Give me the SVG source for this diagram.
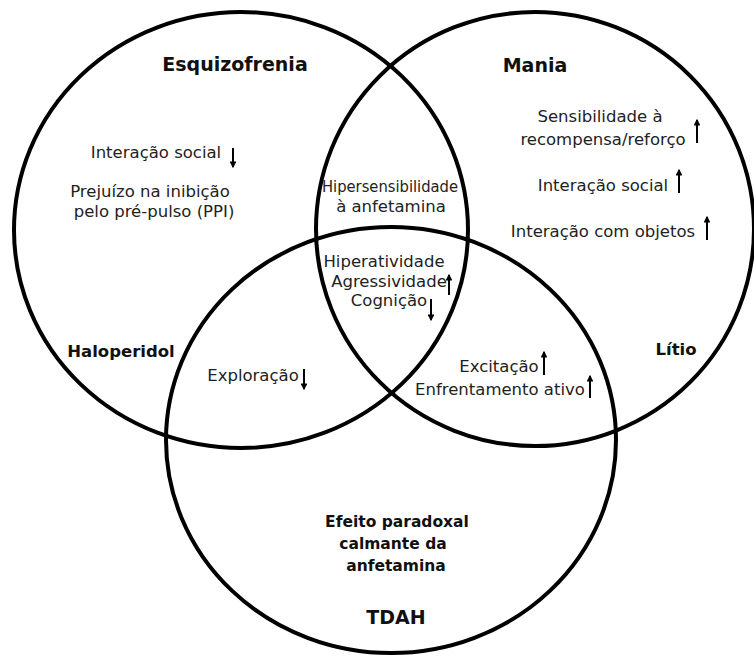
<svg xmlns="http://www.w3.org/2000/svg" width="754" height="656" viewBox="0 0 754 656">
  <defs>
    <style>
      .ring { fill: none; stroke: #000; stroke-width: 4; }
      .title { font-family: "DejaVu Sans", "Liberation Sans", sans-serif; font-weight: bold; fill: #111; text-anchor: middle; }
      .item { font-family: "DejaVu Sans", "Liberation Sans", sans-serif; font-size: 16.5px; fill: #222; text-anchor: middle; }
      .arrow { stroke: #000; stroke-width: 2; fill: none; }
    </style>
    <marker id="head" viewBox="0 0 10 10" refX="8" refY="5" markerWidth="3.6" markerHeight="3.4" orient="auto" markerUnits="strokeWidth">
      <path d="M0,0 L10,5 L0,10 Z" fill="#000"/>
    </marker>
  </defs>

  <rect width="754" height="656" fill="#fff"/>

  <!-- Esquizofrenia set -->
  <g id="esquizofrenia">
    <ellipse class="ring" cx="241" cy="230" rx="227" ry="218"/>
    <text class="title" x="235" y="71" font-size="19">Esquizofrenia</text>
    <text class="item" x="156" y="158">Interação social</text>
    <path class="arrow" d="M233,148 V167" marker-end="url(#head)"/>
    <text class="item" x="150" y="197">Prejuízo na inibição</text>
    <text class="item" x="154" y="217">pelo pré-pulso (PPI)</text>
    <text class="title" x="121" y="357" font-size="16.5">Haloperidol</text>
  </g>

  <!-- Mania set -->
  <g id="mania">
    <ellipse class="ring" cx="535" cy="229" rx="219" ry="217"/>
    <text class="title" x="535" y="72" font-size="19">Mania</text>
    <text class="item" x="600" y="122">Sensibilidade à</text>
    <text class="item" x="603" y="145">recompensa/reforço</text>
    <path class="arrow" d="M697,143 V120" marker-end="url(#head)"/>
    <text class="item" x="603" y="191">Interação social</text>
    <path class="arrow" d="M679,193 V170" marker-end="url(#head)"/>
    <text class="item" x="603" y="237">Interação com objetos</text>
    <path class="arrow" d="M707,240 V217" marker-end="url(#head)"/>
    <text class="title" x="676" y="355" font-size="16.5">Lítio</text>
  </g>

  <!-- TDAH set -->
  <g id="tdah">
    <ellipse class="ring" cx="391" cy="440" rx="225" ry="213"/>
    <text class="title" x="397" y="527" font-size="15.5">Efeito paradoxal</text>
    <text class="title" x="393" y="549" font-size="15.5">calmante da</text>
    <text class="title" x="396" y="571" font-size="15.5">anfetamina</text>
    <text class="title" x="396" y="624" font-size="19">TDAH</text>
  </g>

  <!-- Esquizofrenia ∩ Mania -->
  <g id="esq-mania">
    <text class="item" x="390" y="192" textLength="136" lengthAdjust="spacingAndGlyphs">Hipersensibilidade</text>
    <text class="item" x="391" y="212">à anfetamina</text>
  </g>

  <!-- All three sets -->
  <g id="centre">
    <text class="item" x="384" y="267">Hiperatividade</text>
    <text class="item" x="389" y="287">Agressividade</text>
    <path class="arrow" d="M449,295 V275" marker-end="url(#head)"/>
    <text class="item" x="389" y="306">Cognição</text>
    <path class="arrow" d="M431,299 V320" marker-end="url(#head)"/>
  </g>

  <!-- Esquizofrenia ∩ TDAH -->
  <g id="esq-tdah">
    <text class="item" x="253" y="381">Exploração</text>
    <path class="arrow" d="M304,369 V389" marker-end="url(#head)"/>
  </g>

  <!-- Mania ∩ TDAH -->
  <g id="mania-tdah">
    <text class="item" x="499" y="372">Excitação</text>
    <path class="arrow" d="M544,375 V352" marker-end="url(#head)"/>
    <text class="item" x="500" y="395">Enfrentamento ativo</text>
    <path class="arrow" d="M590,398 V376" marker-end="url(#head)"/>
  </g>
</svg>
